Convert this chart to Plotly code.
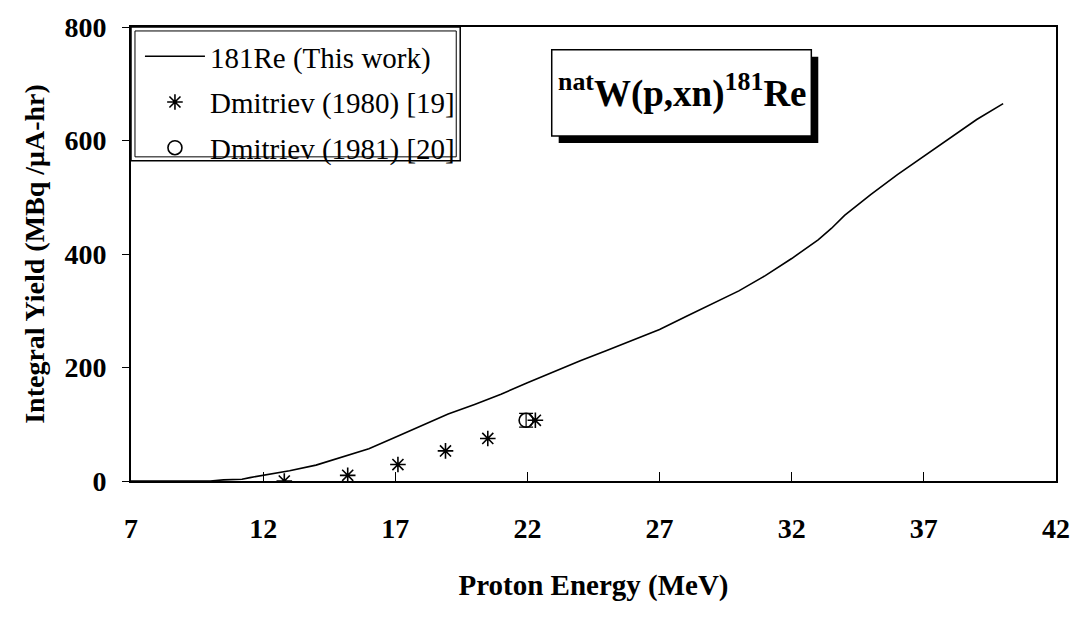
import plotly.graph_objects as go

# Calculated yield curve (this work)
energy_curve = [7, 10, 10.5, 11.2, 11.5, 12, 12.5, 13, 14, 15, 16, 17, 18, 19, 20, 21, 22, 22.5, 23, 24,
                25, 26, 27, 28, 29, 30, 31, 32, 33, 33.5, 34, 35, 36, 37, 38, 38.5, 39, 40]
yield_curve = [0, 0, 2, 3, 6, 10, 13, 18, 28, 42, 57, 77, 98, 118, 135, 153, 173, 183, 193, 212,
               230, 248, 267, 290, 312, 335, 362, 392, 425, 445, 468, 505, 540, 572, 605, 620, 637, 665]

# Dmitriev (1980) [19]
energy_d80 = [12.8, 15.2, 17.1, 18.9, 20.5, 22.3]
yield_d80 = [0, 10, 29, 53, 75, 107]

# Dmitriev (1981) [20]
energy_d81 = [21.95]
yield_d81 = [107]
err_d81 = [12]

x_ticks = [7, 12, 17, 22, 27, 32, 37, 42]
y_ticks = [0, 200, 400, 600, 800]

FONT = "Liberation Serif"

fig = go.Figure()
fig.add_trace(go.Scatter(x=energy_curve, y=yield_curve, mode="lines",
                         line=dict(color="black", width=1.6),
                         name="181Re (This work)", legendgroup="a"))
fig.add_trace(go.Scatter(x=energy_d80, y=yield_d80, mode="markers",
                         marker=dict(symbol="asterisk-open", size=13, color="black",
                                     line=dict(color="black", width=1.6)),
                         name="Dmitriev (1980) [19]", legendgroup="b"))
fig.add_trace(go.Scatter(x=energy_d81, y=yield_d81, mode="markers",
                         marker=dict(symbol="circle-open", size=14, color="black",
                                     line=dict(color="black", width=1.6)),
                         error_y=dict(type="data", array=err_d81, color="black", thickness=1.2, width=7),
                         name="Dmitriev (1981) [20]", legendgroup="c"))

# plot area geometry (px)
L, R, T, B = 131, 21, 23, 156
W, H = 1082 - L - R, 637 - T - B

def px(x):
    return (x - L) / W

def py(y):
    return (637 - B - y) / H

shapes = [
    # legend double border
    dict(type="rect", xref="paper", yref="paper", x0=px(131), x1=px(462), y0=py(158), y1=py(23),
         line=dict(color="black", width=1.5), fillcolor="white", layer="above"),
    dict(type="rect", xref="paper", yref="paper", x0=px(135), x1=px(458), y0=py(154), y1=py(27),
         line=dict(color="black", width=1), layer="above"),
    # annotation box shadow
    dict(type="rect", xref="paper", yref="paper", x0=px(561), x1=px(822), y0=py(140), y1=py(53),
         line=dict(color="black", width=0), fillcolor="black", layer="above"),
    # annotation box
    dict(type="rect", xref="paper", yref="paper", x0=px(554), x1=px(815), y0=py(133), y1=py(46),
         line=dict(color="black", width=1.5), fillcolor="white", layer="above"),
]

fig.update_layout(
    width=1082, height=637,
    margin=dict(l=L, r=R, t=T, b=B),
    paper_bgcolor="white", plot_bgcolor="white",
    font=dict(family=FONT, color="black"),
    showlegend=True,
    legend=dict(x=px(140), y=py(27), xanchor="left", yanchor="top",
                bgcolor="rgba(0,0,0,0)", borderwidth=0,
                font=dict(family=FONT, size=29, color="black"),
                tracegroupgap=5, itemwidth=60),
    shapes=shapes,
    annotations=[dict(xref="paper", yref="paper", x=px(685), y=py(88),
                      xanchor="center", yanchor="middle", showarrow=False,
                      text="<b><sup>nat</sup>W(p,xn)<sup>181</sup>Re</b>",
                      font=dict(family=FONT, size=37, color="black"))],
    xaxis=dict(range=[7, 42], tickvals=x_ticks, ticktext=[str(v) for v in x_ticks],
               showgrid=False, zeroline=False,
               showline=True, linecolor="black", linewidth=2, mirror=True,
               ticks="inside", ticklen=9, tickwidth=1, tickcolor="black",
               tickfont=dict(family=FONT, size=28, color="black", weight="bold"),
               ticklabelstandoff=21,
               title=dict(text="<b>Proton Energy (MeV)</b>", font=dict(family=FONT, size=29, color="black"),
                          standoff=32)),
    yaxis=dict(range=[0, 800], tickvals=y_ticks, ticktext=[str(v) for v in y_ticks],
               showgrid=False, zeroline=False,
               showline=True, linecolor="black", linewidth=2, mirror=True,
               ticks="outside", ticklen=7, tickwidth=1, tickcolor="black",
               tickfont=dict(family=FONT, size=28, color="black", weight="bold"),
               ticklabelstandoff=10,
               title=dict(text="<b>Integral Yield (MBq /μA-hr)</b>", font=dict(family=FONT, size=28, color="black"),
                          standoff=12)),
)

fig.write_html("out.html")
